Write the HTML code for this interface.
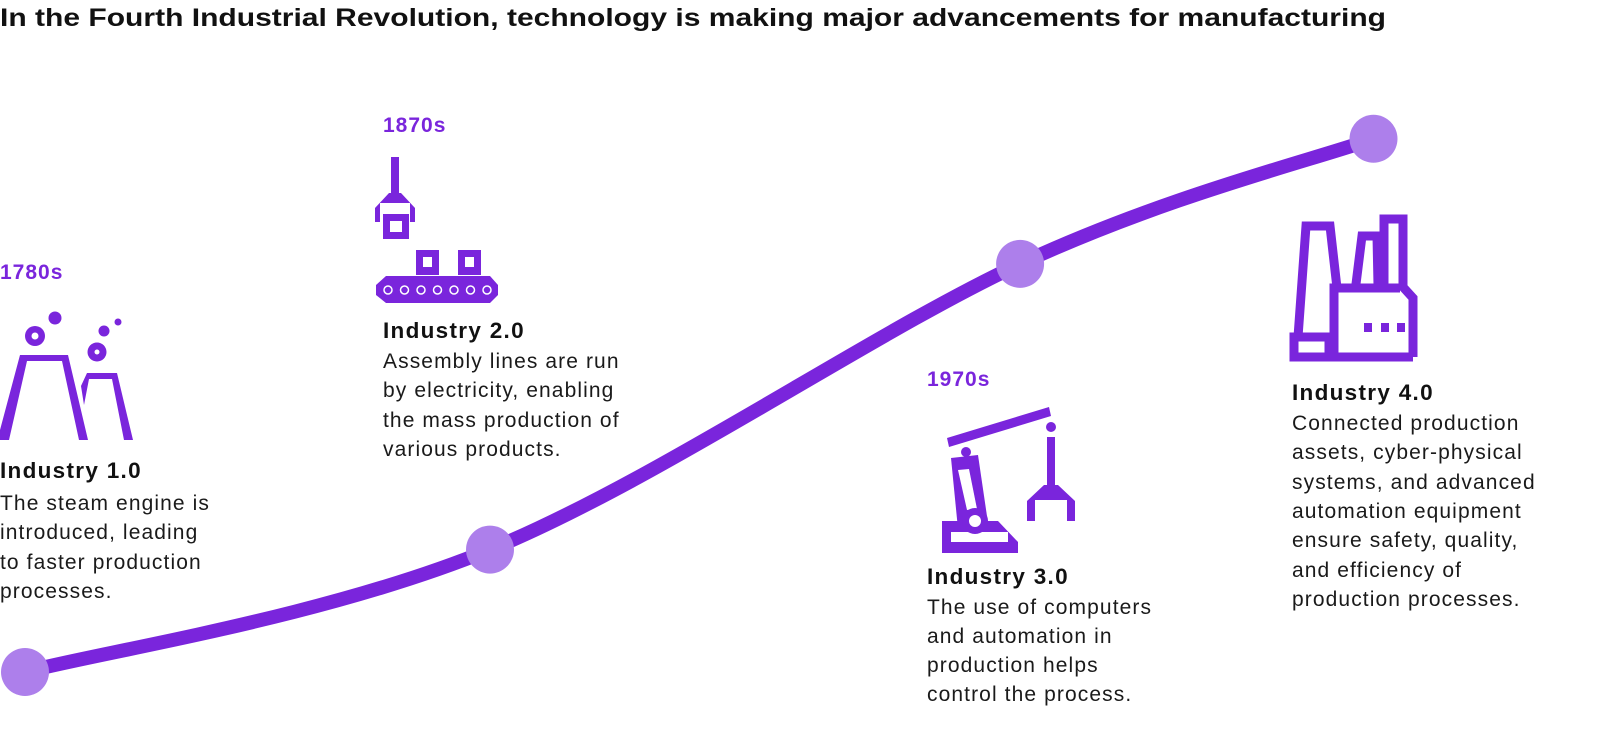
<!DOCTYPE html>
<html><head><meta charset="utf-8">
<style>
html,body{margin:0;padding:0;background:#fff;}
svg{display:block;font-family:"Liberation Sans",sans-serif;}
.yr{font-weight:bold;font-size:21px;fill:#7a25dc;letter-spacing:1px;}
.hd{font-weight:bold;font-size:22.5px;fill:#111;letter-spacing:1.3px;}
.bd{font-size:21px;fill:#1a1a1a;letter-spacing:1.1px;}
</style></head>
<body>
<svg id="chart" width="1600" height="741" viewBox="0 0 1600 741" xmlns="http://www.w3.org/2000/svg">
<text x="0" y="26" font-size="25" font-weight="bold" fill="#111" textLength="1386" lengthAdjust="spacingAndGlyphs">In the Fourth Industrial Revolution, technology is making major advancements for manufacturing</text>
<path id="curve" d="" fill="none" stroke="#7a25dc" stroke-width="14" stroke-linecap="round"/>
<g id="dots"></g>

<!-- Era 1 -->
<text class="yr" x="0" y="279">1780s</text>
<g fill="#7a25dc">
  <circle cx="35" cy="336" r="10"/><circle cx="35" cy="336" r="3.5" fill="#fff"/>
  <circle cx="55" cy="318" r="6.5"/>
  <circle cx="97" cy="352" r="9.5"/><circle cx="97" cy="352" r="2.5" fill="#fff"/>
  <circle cx="104" cy="331" r="5.5"/><circle cx="118" cy="322" r="3.5"/>
  <polygon points="20,355 68,355 88,440 79,440 62,361 27,361 9,440 0,440 0,430"/>
  <polygon points="87,373 117,373 133,440 124,440 112,379 89,379 84,405 81,386"/>
</g>
<text class="hd" x="0" y="478">Industry 1.0</text>
<text class="bd"><tspan x="0" y="510">The steam engine is</tspan><tspan x="0" y="539">introduced, leading</tspan><tspan x="0" y="569">to faster production</tspan><tspan x="0" y="598">processes.</tspan></text>

<!-- Era 2 -->
<text class="yr" x="383" y="132">1870s</text>
<g fill="#7a25dc">
  <rect x="391" y="157" width="8" height="36"/>
  <polygon points="389,193 401,193 415,208 415,222 410,222 410,203 380,203 380,222 375,222 375,208"/>
  <rect x="383" y="214" width="26" height="25"/><rect x="390" y="221" width="12" height="11" fill="#fff"/>
  <rect x="416" y="250" width="23" height="25"/><rect x="423" y="257" width="9" height="10" fill="#fff"/>
  <rect x="458" y="250" width="23" height="25"/><rect x="465" y="257" width="9" height="10" fill="#fff"/>
  <polygon points="376,285 386,276 490,276 498,285 498,288 376,288"/>
  <polygon points="376,292 498,292 498,295 490,303 386,303 376,295"/>
  <rect x="376" y="286" width="122" height="8"/>
  <g id="rollers"></g>
</g>
<text class="hd" x="383" y="338">Industry 2.0</text>
<text class="bd"><tspan x="383" y="368">Assembly lines are run</tspan><tspan x="383" y="397">by electricity, enabling</tspan><tspan x="383" y="427">the mass production of</tspan><tspan x="383" y="456">various products.</tspan></text>

<!-- Era 3 -->
<text class="yr" x="927" y="386">1970s</text>
<g fill="#7a25dc">
  <polygon points="947,438 1049,407 1051,416 949,447"/>
  <circle cx="966" cy="452" r="5"/>
  <polygon points="951,458 978,455 988,523 958,529"/>
  <polygon points="958,470 969,469 977,509 967,510" fill="#fff"/>
  <polygon points="942,521 998,521 1018,542 1018,553 942,553"/>
  <rect x="951" y="532" width="57" height="10" fill="#fff"/>
  <circle cx="975" cy="521" r="13"/><circle cx="975" cy="521" r="6" fill="#fff"/>
  <circle cx="1051" cy="427" r="5"/>
  <rect x="1047" y="437" width="8" height="48"/>
  <polygon points="1044,485 1058,485 1075,501 1075,521 1067,521 1067,500 1035,500 1035,521 1027,521 1027,501"/>
</g>
<text class="hd" x="927" y="584">Industry 3.0</text>
<text class="bd"><tspan x="927" y="614">The use of computers</tspan><tspan x="927" y="643">and automation in</tspan><tspan x="927" y="672">production helps</tspan><tspan x="927" y="701">control the process.</tspan></text>

<!-- Era 4 -->
<g fill="none" stroke="#7a25dc" stroke-width="9">
  <polyline points="1353,288 1337,288 1330,226 1306,226 1298,337"/>
  <polyline points="1356,284 1362,236 1377,236 1378,285"/>
  <polyline points="1384,285 1384,219 1403,219 1403,287 1413,298 1413,357"/>
  <rect x="1294" y="337" width="35" height="20"/>
  <polyline points="1329,357 1413,357"/>
  <polyline points="1334,357 1334,288 1400,288"/>
</g>
<g fill="#7a25dc">
  <rect x="1364" y="323" width="8" height="9"/><rect x="1381" y="323" width="8" height="9"/><rect x="1397" y="323" width="8" height="9"/>
</g>
<text class="hd" x="1292" y="400">Industry 4.0</text>
<text class="bd"><tspan x="1292" y="430">Connected production</tspan><tspan x="1292" y="459">assets, cyber-physical</tspan><tspan x="1292" y="489">systems, and advanced</tspan><tspan x="1292" y="518">automation equipment</tspan><tspan x="1292" y="547">ensure safety, quality,</tspan><tspan x="1292" y="577">and efficiency of</tspan><tspan x="1292" y="606">production processes.</tspan></text>
</svg>
<script>
const eras = ["Industry 1.0","Industry 2.0","Industry 3.0","Industry 4.0"];
const timeValues = [0, 1, 2.14, 2.9];
const levelValues = [0, 0.228, 0.76, 0.993];
const rollerCount = 7;

const xScale = t => 25 + t * 465;
const yScale = v => 672 - v * 537;

const NS = "http://www.w3.org/2000/svg";
const pts = eras.map((e,i)=>[xScale(timeValues[i]), yScale(levelValues[i])]);
let d = "M" + pts[0][0] + "," + pts[0][1];
for (let i=0;i<pts.length-1;i++){
  const p0 = pts[Math.max(i-1,0)], p1 = pts[i], p2 = pts[i+1], p3 = pts[Math.min(i+2,pts.length-1)];
  const c1 = [p1[0]+(p2[0]-p0[0])/6, p1[1]+(p2[1]-p0[1])/6];
  const c2 = [p2[0]-(p3[0]-p1[0])/6, p2[1]-(p3[1]-p1[1])/6];
  d += ` C${c1[0]},${c1[1]} ${c2[0]},${c2[1]} ${p2[0]},${p2[1]}`;
}
document.getElementById("curve").setAttribute("d", d);
const dots = document.getElementById("dots");
pts.forEach((p,i)=>{
  const c = document.createElementNS(NS,"circle");
  c.setAttribute("cx",p[0]); c.setAttribute("cy",p[1]); c.setAttribute("r",24);
  c.setAttribute("fill","#ad7feb");
  
  
  dots.appendChild(c);
});
const rollers = document.getElementById("rollers");
for (let i=0;i<rollerCount;i++){
  const c = document.createElementNS(NS,"circle");
  c.setAttribute("cx", 388 + i*16.5); c.setAttribute("cy", 290); c.setAttribute("r", 4);
  c.setAttribute("fill","#7a25dc"); c.setAttribute("stroke","#fff"); c.setAttribute("stroke-width","1.5");
  
  
  rollers.appendChild(c);
}
</script>
</body></html>
